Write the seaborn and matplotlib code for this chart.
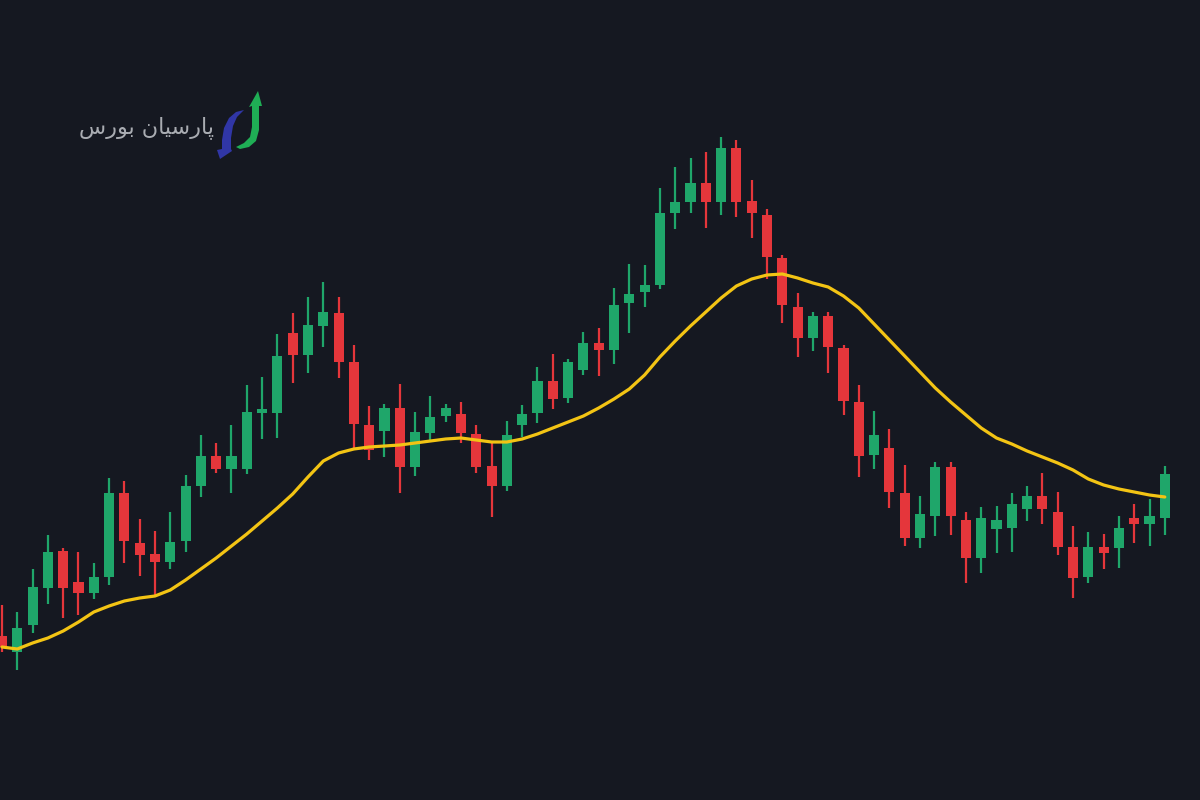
import numpy as np
import pandas as pd
import seaborn as sns
import matplotlib.pyplot as plt

# candle data (price units, 77 sessions)
opens = [164, 148, 175, 212, 249, 218, 207, 223, 307, 257, 246, 238, 259, 314, 344, 331,
         331, 387, 387, 467, 445, 474, 487, 438, 375, 369, 392, 333, 367, 384, 386, 366,
         334, 314, 375, 387, 419, 402, 430, 457, 450, 497, 508, 515, 587, 598, 617, 598,
         652, 599, 585, 542, 493, 462, 484, 452, 398, 345, 352, 307, 262, 284, 333, 280,
         242, 271, 272, 291, 304, 288, 253, 223, 253, 252, 282, 276, 282]
highs = [195, 188, 231, 265, 252, 248, 237, 322, 319, 281, 269, 288, 325, 365, 357, 375,
         415, 423, 466, 487, 503, 518, 503, 455, 394, 396, 416, 388, 404, 396, 398, 375,
         359, 379, 395, 433, 446, 441, 468, 472, 512, 536, 535, 612, 633, 642, 648, 663,
         660, 620, 591, 545, 507, 488, 488, 455, 415, 389, 371, 335, 304, 338, 338, 288,
         293, 294, 307, 314, 327, 308, 274, 268, 266, 284, 296, 301, 334]
lows = [148, 130, 167, 196, 182, 185, 201, 215, 237, 224, 203, 231, 248, 303, 327, 307,
        326, 361, 362, 417, 427, 453, 422, 352, 340, 343, 307, 324, 359, 378, 357, 327,
        283, 309, 363, 377, 391, 397, 425, 424, 436, 467, 493, 511, 571, 587, 572, 585,
        583, 562, 521, 477, 443, 449, 427, 385, 323, 331, 292, 254, 252, 264, 265, 217,
        227, 247, 248, 279, 276, 245, 202, 217, 231, 232, 257, 254, 265]
closes = [153, 172, 213, 248, 212, 207, 223, 307, 259, 245, 238, 258, 314, 344, 331, 344,
          388, 391, 444, 445, 475, 488, 438, 376, 350, 392, 333, 368, 383, 392, 367, 333,
          314, 365, 386, 419, 401, 438, 457, 450, 495, 506, 515, 587, 598, 617, 598, 652,
          598, 587, 543, 495, 462, 484, 453, 399, 344, 365, 308, 262, 286, 333, 284, 242,
          282, 280, 296, 304, 291, 253, 222, 253, 247, 272, 276, 284, 326]
# moving average as drawn on the chart
ma = [153, 151, 157, 162, 169, 178, 188, 194, 199, 202, 204, 210, 220, 231, 242, 254,
      266, 279, 292, 306, 323, 339, 347, 351, 353, 354, 355, 357, 359, 361, 362, 360,
      358, 358, 361, 366, 372, 378, 384, 392, 401, 411, 425, 443, 459, 474, 488, 502,
      514, 521, 525, 526, 522, 517, 513, 504, 492, 476, 460, 444, 428, 412, 398, 385,
      372, 362, 356, 349, 343, 337, 330, 321, 315, 311, 308, 305, 303]

brand = "\uFEB1\uFEAD\uFEEE\uFE91 \uFEE5\uFE8E\uFBFF\uFEB3\uFEAD\uFE8E\uFB58"  # پارسیان بورس

BG = "#151821"
UP = "#1fa66a"
DOWN = "#e5363b"
MA_COLOR = "#f3c414"

df = pd.DataFrame({"open": opens, "high": highs, "low": lows, "close": closes, "ma": ma})
df["t"] = np.arange(len(df))
df["up"] = df["close"] >= df["open"]

sns.set_theme(style="dark", rc={"axes.facecolor": BG, "figure.facecolor": BG})
plt.rcParams["font.family"] = ["DejaVu Sans"]

fig = plt.figure(figsize=(12, 8), dpi=100)
ax = fig.add_axes([0, 0, 1, 1])

colors = np.where(df["up"], UP, DOWN)
ax.vlines(df["t"], df["low"], df["high"], colors=colors, linewidth=1.6, zorder=2)
body_low = df[["open", "close"]].min(axis=1)
body_h = (df["close"] - df["open"]).abs().clip(lower=3)
ax.bar(df["t"], body_h, bottom=body_low, width=0.66, color=colors, linewidth=0, zorder=3)

sns.lineplot(data=df, x="t", y="ma", ax=ax, color=MA_COLOR, linewidth=2.3, zorder=4)

ax.set_xlim(-0.13, 78.3)
ax.set_ylim(0, 800)
ax.set_axis_off()

# brand logo: name + two interlocking arrows
fig.text(0.178, 0.84, brand, color="#a9acb2", fontsize=16, ha="right", va="center")


def px(pts):
    return [(x / 1200, 1 - y / 800) for x, y in pts]


blue_pts = [(244, 110), (236, 112), (229, 118), (224, 128), (222, 140), (222, 149),
            (217, 150), (220, 159), (232, 151), (231, 149), (231, 138), (233, 126), (237, 117)]
green_pts = [(236, 147), (244, 143), (250, 137), (252, 127), (252, 106), (249, 107),
             (258, 91), (262, 106), (259, 106), (259, 130), (256, 141), (249, 147), (240, 149)]
fig.patches.append(plt.Polygon(px(blue_pts), closed=True, transform=fig.transFigure,
                               color="#3036a6", linewidth=0))
fig.patches.append(plt.Polygon(px(green_pts), closed=True, transform=fig.transFigure,
                               color="#1fae55", linewidth=0))

fig.savefig("out.png", dpi=100, facecolor=BG)
